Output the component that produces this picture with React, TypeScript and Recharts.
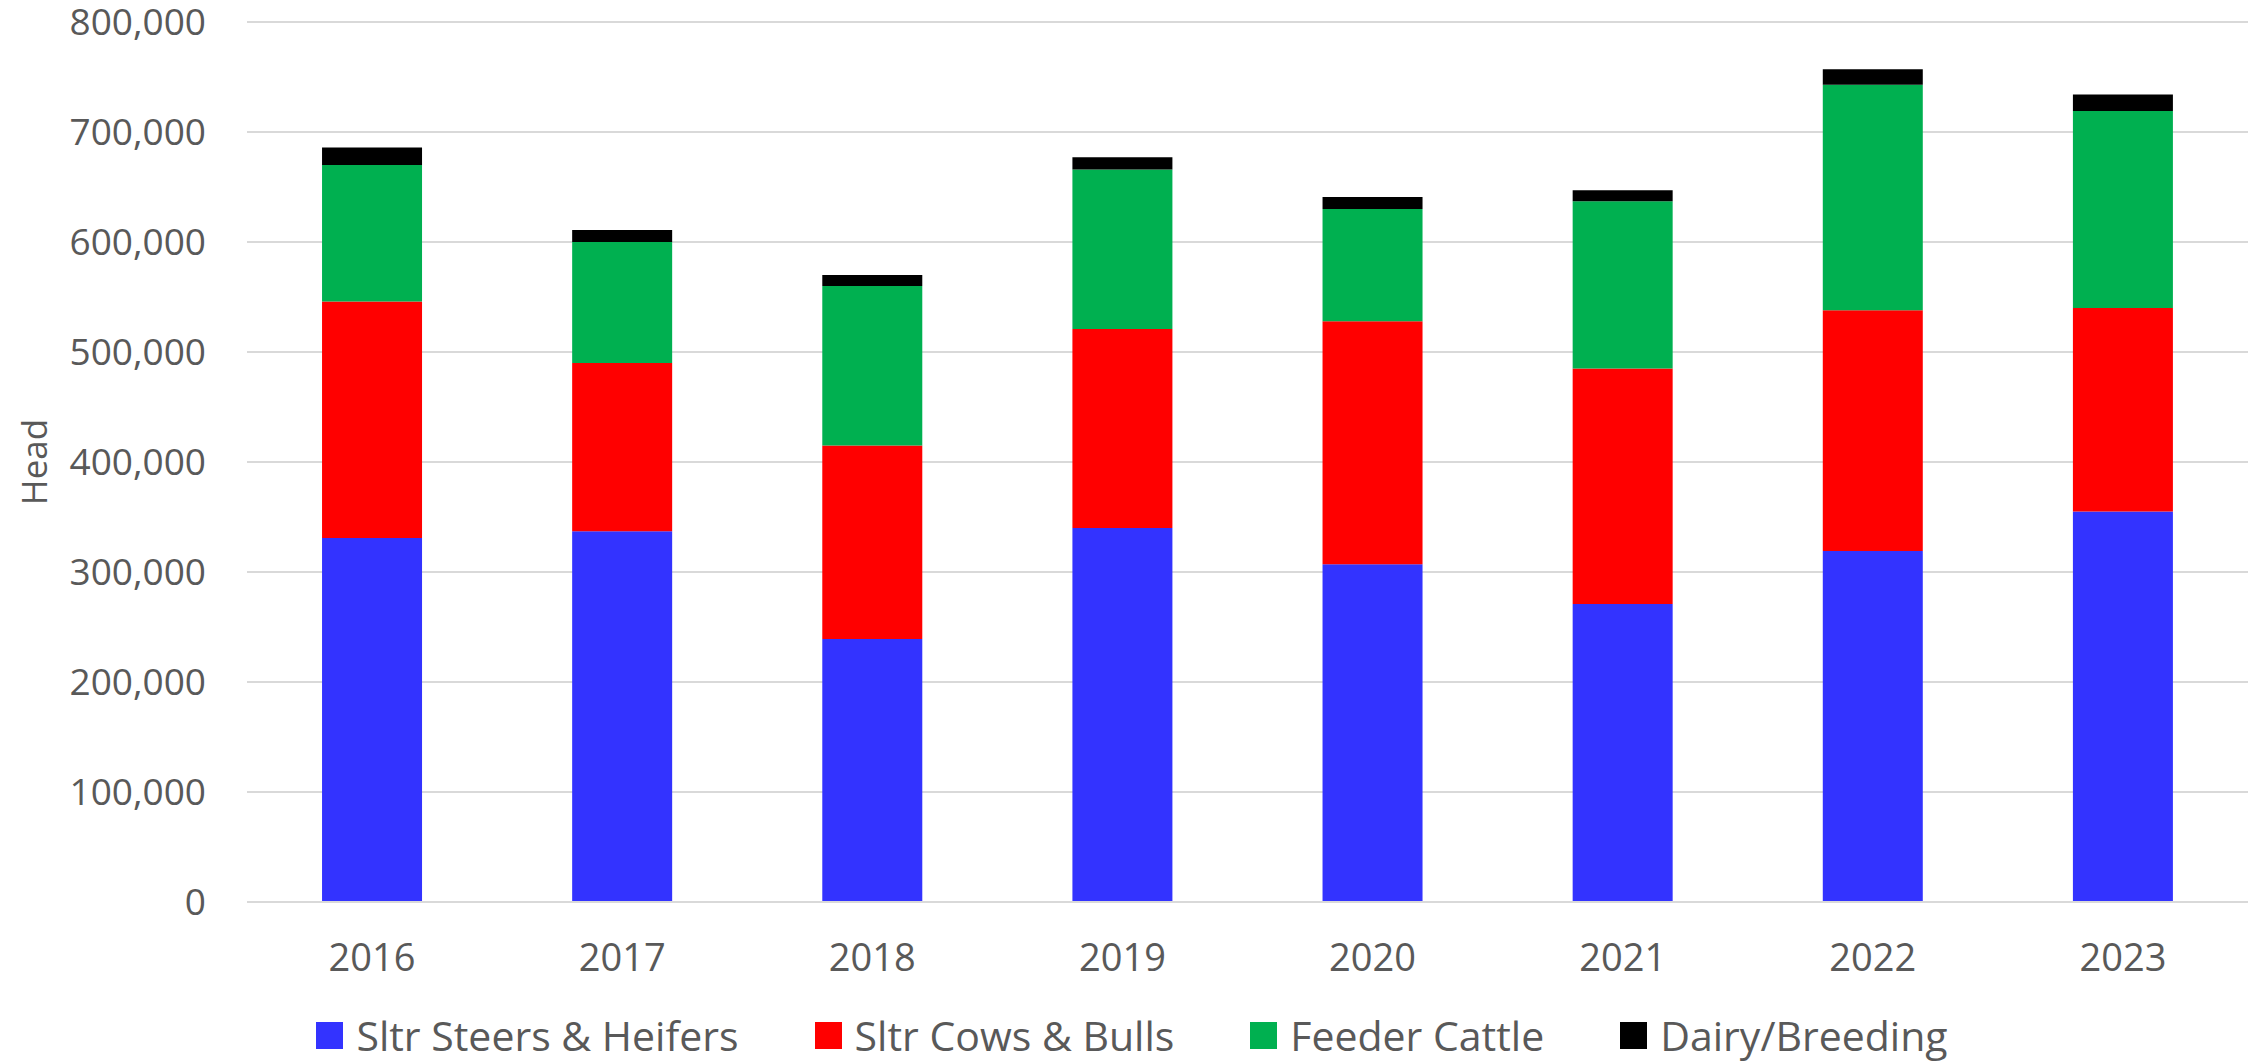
import React from 'react';
import { BarChart, Bar, XAxis, YAxis, CartesianGrid, Legend } from 'recharts';

const years = ['2016', '2017', '2018', '2019', '2020', '2021', '2022', '2023'];
const steersHeifers = [331000, 337000, 239000, 340000, 307000, 271000, 319000, 355000];
const cowsBulls = [215000, 153000, 176000, 181000, 221000, 214000, 219000, 185000];
const feederCattle = [124000, 110000, 145000, 145000, 102000, 152000, 205000, 179000];
const dairyBreeding = [16000, 11000, 10000, 11000, 11000, 10000, 14000, 15000];
const yTicks = [0, 100000, 200000, 300000, 400000, 500000, 600000, 700000, 800000];

const seriesList = [
  { key: 'steers', name: 'Sltr Steers & Heifers', color: '#3333FF' },
  { key: 'cows', name: 'Sltr Cows & Bulls', color: '#FF0000' },
  { key: 'feeder', name: 'Feeder Cattle', color: '#00B050' },
  { key: 'dairy', name: 'Dairy/Breeding', color: '#000000' },
];

const data = years.map((y, i) => ({
  year: y,
  steers: steersHeifers[i],
  cows: cowsBulls[i],
  feeder: feederCattle[i],
  dairy: dairyBreeding[i],
}));

const FONT = '"Open Sans", "Noto Sans", sans-serif';
const TEXT = '#595959';

const LegendContent = () => (
  <div
    style={{
      height: 54,
      width: 2264,
      display: 'flex',
      alignItems: 'center',
      justifyContent: 'center',
      fontFamily: FONT,
      fontSize: 41,
      color: TEXT,
    }}
  >
    {seriesList.map((s, i) => (
      <div
        key={s.key}
        style={{
          display: 'flex',
          alignItems: 'center',
          marginRight: i < seriesList.length - 1 ? 76 : 0,
        }}
      >
        <span style={{ width: 27, height: 27, background: s.color, display: 'inline-block', marginRight: 13 }} />
        <span style={{ lineHeight: '54px', whiteSpace: 'nowrap' }}>{s.name}</span>
      </div>
    ))}
  </div>
);

const HeadLabel = (props: any) => {
  const vb = props.viewBox || { x: 0, y: 0, width: 0, height: 0 };
  const cx = vb.x + 33;
  const cy = vb.y + vb.height / 2;
  return (
    <text
      x={cx}
      y={cy}
      transform={`rotate(-90 ${cx} ${cy})`}
      textAnchor="middle"
      dominantBaseline="central"
      fill={TEXT}
      fontFamily={FONT}
      fontSize={35}
    >
      Head
    </text>
  );
};

export default function App() {
  return (
    <div style={{ position: 'absolute', left: 0, top: 0, width: 2264, height: 1062, background: '#fff' }}>
      <BarChart
        width={2264}
        height={1062}
        data={data}
        margin={{ top: 22, right: 16, left: 0, bottom: 0 }}
        barCategoryGap="30%"
      >
        <CartesianGrid vertical={false} stroke="#d9d9d9" strokeWidth={2} />
        <XAxis
          dataKey="year"
          height={106}
          tickLine={false}
          tickSize={0}
          tickMargin={42}
          axisLine={{ stroke: '#d9d9d9', strokeWidth: 2 }}
          tick={{ fill: TEXT, fontFamily: FONT, fontSize: 38 }}
        />
        <YAxis
          width={247}
          domain={[0, 800000]}
          ticks={yTicks}
          interval={0}
          axisLine={false}
          tickLine={false}
          tickSize={0}
          tickMargin={41}
          tickFormatter={(v: number) => v.toLocaleString('en-US')}
          tick={{ fill: TEXT, fontFamily: FONT, fontSize: 37 }}
          label={<HeadLabel />}
        />
        <Legend verticalAlign="bottom" wrapperStyle={{ left: 0, width: 2264 }} content={<LegendContent />} />
        {seriesList.map((s) => (
          <Bar key={s.key} dataKey={s.key} name={s.name} stackId="a" fill={s.color} isAnimationActive={false} />
        ))}
      </BarChart>
    </div>
  );
}
